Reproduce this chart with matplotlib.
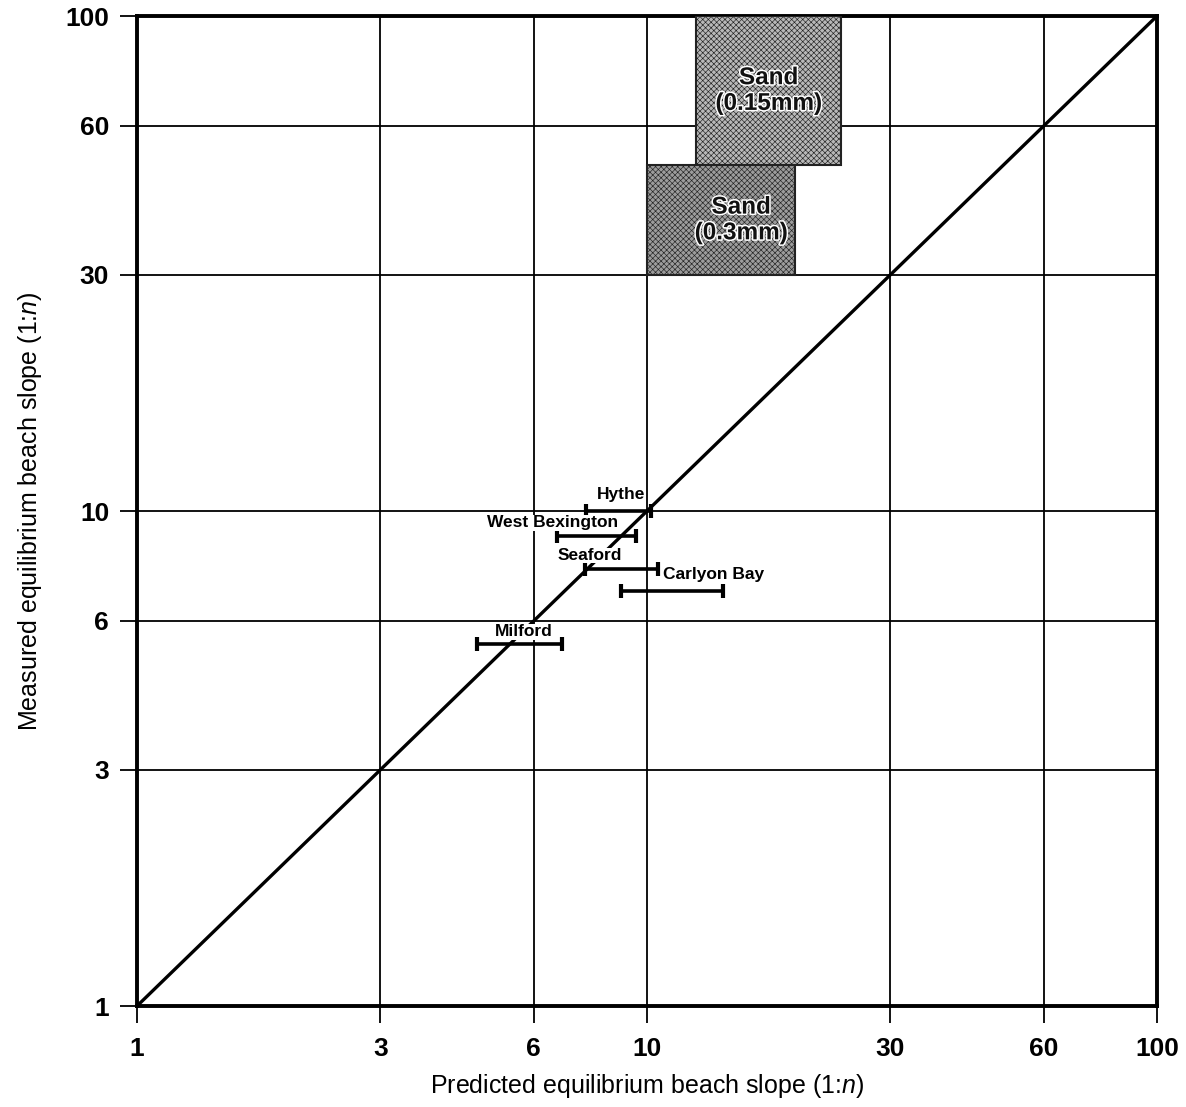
import matplotlib
matplotlib.use("Agg")
import matplotlib.pyplot as plt
import matplotlib.patheffects as pe
from matplotlib.patches import Rectangle
from matplotlib.ticker import FixedLocator, NullLocator, FixedFormatter

plt.rcParams["font.family"] = ["Liberation Sans", "DejaVu Sans"]
plt.rcParams["mathtext.fontset"] = "custom"
plt.rcParams["mathtext.rm"] = "Liberation Sans"
plt.rcParams["mathtext.it"] = "Liberation Sans:italic"
plt.rcParams["hatch.linewidth"] = 0.45

# Field sites: range of predicted slope (1:n) against measured slope (1:n)
sites = ["Hythe", "West Bexington", "Seaford", "Carlyon Bay", "Milford"]
pred_low = [7.6, 6.65, 7.55, 8.9, 4.65]
pred_high = [10.2, 9.5, 10.5, 14.1, 6.8]
measured = [10.0, 8.9, 7.65, 6.9, 5.4]

# Laboratory sand envelopes
sand_labels = ["Sand\n(0.15mm)", "Sand\n(0.3mm)"]
sand_pred_low = [12.5, 10.0]
sand_pred_high = [24.0, 19.5]
sand_meas_low = [50.0, 30.0]
sand_meas_high = [100.0, 50.0]

ticks = [1, 3, 6, 10, 30, 60, 100]
tick_labels = ["1", "3", "6", "10", "30", "60", "100"]

# label placement relative to the middle of each bar (points)
label_offsets = [(1.5, 12), (-31, 9.5), (-23, 9.5), (29.5, 12), (3, 8.5)]
sand_faces = ["#b8b8b8", "#9c9c9c"]
sand_text_x = [None, 15.3]

fig = plt.figure(figsize=(11.86, 11.07), dpi=100)
ax = fig.add_axes([0.1155, 0.0912, 0.86, 0.8943])
ax.set_xscale("log")
ax.set_yscale("log")
ax.set_xlim(ticks[0], ticks[-1])
ax.set_ylim(ticks[0], ticks[-1])

for axis in (ax.xaxis, ax.yaxis):
    axis.set_major_locator(FixedLocator(ticks))
    axis.set_major_formatter(FixedFormatter(tick_labels))
    axis.set_minor_locator(NullLocator())

ax.grid(True, which="major", color="black", linewidth=1.3, zorder=1)
ax.set_axisbelow(True)
ax.tick_params(axis="both", which="major", length=12, width=1.3,
               labelsize=19, direction="out", color="black")
ax.tick_params(axis="y", pad=8)
ax.tick_params(axis="x", pad=10)
for lab in ax.get_xticklabels() + ax.get_yticklabels():
    lab.set_fontweight("bold")
for sp in ax.spines.values():
    sp.set_linewidth(2.8)

# 1:1 line
ax.plot([ticks[0], ticks[-1]], [ticks[0], ticks[-1]], color="black",
        linewidth=2.4, zorder=3, solid_capstyle="butt")

# sand envelopes
for i, lab in enumerate(sand_labels):
    x0, x1 = sand_pred_low[i], sand_pred_high[i]
    y0, y1 = sand_meas_low[i], sand_meas_high[i]
    rect = Rectangle((x0, y0), x1 - x0, y1 - y0, facecolor=sand_faces[i],
                     edgecolor="#222222", linewidth=1.5, hatch="xxxxxx",
                     zorder=4)
    ax.add_patch(rect)
    tx = sand_text_x[i] if sand_text_x[i] else (x0 * x1) ** 0.5
    ty = (y0 * y1) ** 0.5
    ax.text(tx, ty, lab, ha="center", va="center", fontsize=17.5,
            fontweight="bold", color="#111111", linespacing=1.15, zorder=5,
            path_effects=[pe.withStroke(linewidth=2.2, foreground="white")])

# field site ranges
for i, name in enumerate(sites):
    lo, hi, y = pred_low[i], pred_high[i], measured[i]
    mid = (lo * hi) ** 0.5
    ax.errorbar([mid], [y], xerr=[[mid - lo], [hi - mid]], fmt="none",
                ecolor="black", elinewidth=2.6, capsize=5, capthick=3,
                zorder=6)
    ax.annotate(name, xy=(mid, y), xytext=label_offsets[i],
                textcoords="offset points", ha="center", va="center",
                fontsize=12.5, fontweight="bold", zorder=7,
                bbox=dict(facecolor="white", edgecolor="none", pad=0.3))

ax.set_xlabel(r"Predicted equilibrium beach slope (1:$n$)", fontsize=18,
              labelpad=8)
ax.set_ylabel(r"Measured equilibrium beach slope (1:$n$)", fontsize=18,
              labelpad=15)

fig.savefig("out.png", dpi=100, facecolor="white")
